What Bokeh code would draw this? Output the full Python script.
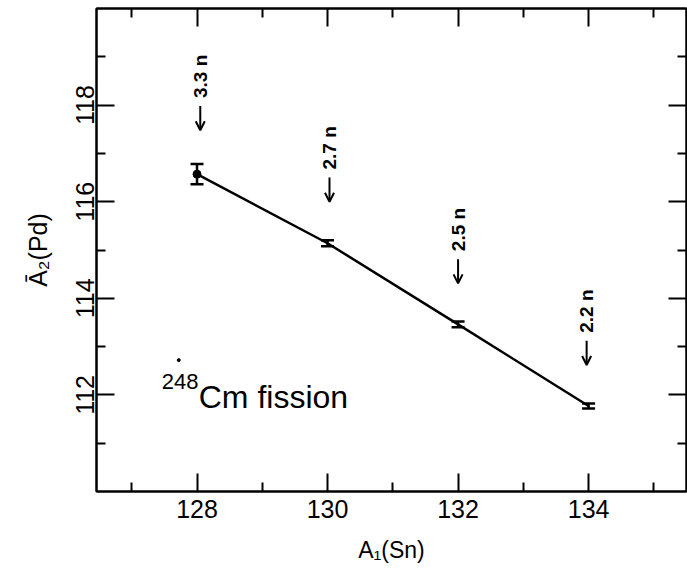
import math
from bokeh.plotting import figure
from bokeh.models import (LinearAxis, FixedTicker, Whisker,
                          ColumnDataSource, Range1d, TeeHead, Arrow, OpenHead)
from bokeh.core.properties import value
from bokeh.embed import file_html
from bokeh.resources import INLINE

# ---- data ----
a1 = [128, 130, 132, 134]
a2 = [116.57, 115.14, 113.46, 111.77]
a2_err = [0.21, 0.06, 0.06, 0.05]

neutron_labels = ["3.3 n", "2.7 n", "2.5 n", "2.2 n"]
arrow_x = [128.05, 130.03, 132.0, 133.97]
arrow_y = [117.48, 116.0, 114.31, 112.62]

stray_x = [127.72]
stray_y = [112.72]

x_major = [128, 130, 132, 134]
x_minor = [127, 129, 131, 133, 135]
y_major = [112, 114, 116, 118]
y_minor = [111, 113, 115, 117, 119]

x_range = (126.46, 135.5)
y_range = (110.0, 120.0)

FONT = "Liberation Sans"
ARROW_LEN = 0.5  # in y data units

src = ColumnDataSource(dict(
    x=a1, y=a2,
    lo=[v - e for v, e in zip(a2, a2_err)],
    hi=[v + e for v, e in zip(a2, a2_err)],
))
ann = ColumnDataSource(dict(
    x=arrow_x, y=arrow_y, y0=[v + ARROW_LEN for v in arrow_y],
    t=neutron_labels,
))

p = figure(width=687, height=570, output_backend="svg", toolbar_location=None,
           x_range=Range1d(*x_range), y_range=Range1d(*y_range),
           min_border_left=96, min_border_right=1, min_border_top=8,
           min_border_bottom=79, background_fill_color="white",
           border_fill_color="white")
p.grid.visible = False
p.outline_line_color = "black"
p.outline_line_width = 2

def style_axis(ax, ticker, labels=True):
    ax.ticker = ticker
    ax.axis_line_width = 2
    ax.major_tick_line_width = 2
    ax.minor_tick_line_width = 2
    ax.major_tick_in = 18
    ax.major_tick_out = 0
    ax.minor_tick_in = 9
    ax.minor_tick_out = 0
    ax.major_label_text_font = FONT
    ax.major_label_text_color = "black"
    ax.axis_label_text_font = FONT
    ax.axis_label_text_color = "black"
    ax.axis_label_text_font_style = "normal"
    if not labels:
        ax.major_label_text_font_size = "0px"
        ax.major_label_text_color = None
        ax.major_label_standoff = 0

style_axis(p.xaxis[0], FixedTicker(ticks=x_major, minor_ticks=x_minor))
style_axis(p.yaxis[0], FixedTicker(ticks=y_major, minor_ticks=y_minor))
p.xaxis.major_label_text_font_size = "25px"
p.yaxis.major_label_text_font_size = "25px"
p.yaxis.major_label_orientation = "vertical"
p.xaxis.major_label_standoff = 8
p.yaxis.major_label_standoff = 2
p.xaxis.axis_label = "A\u2081(Sn)"
p.yaxis.axis_label = "\u0100\u2082(Pd)"
p.xaxis.axis_label_text_font_size = "23px"
p.yaxis.axis_label_text_font_size = "25px"
p.xaxis.axis_label_standoff = 16
p.yaxis.axis_label_standoff = 22

top = LinearAxis()
right = LinearAxis()
style_axis(top, FixedTicker(ticks=x_major, minor_ticks=x_minor), labels=False)
style_axis(right, FixedTicker(ticks=y_major, minor_ticks=y_minor), labels=False)
p.add_layout(top, "above")
p.add_layout(right, "right")

# data line
p.line("x", "y", source=src, line_color="black", line_width=2.5)
# error bars
w = Whisker(source=src, base="x", lower="lo", upper="hi", dimension="height",
            line_color="black", line_width=2.5,
            upper_head=TeeHead(size=13, line_width=2.5, line_color="black"),
            lower_head=TeeHead(size=13, line_width=2.5, line_color="black"))
p.add_layout(w)
p.scatter(a1[:1], a2[:1], size=8, color="black")
p.scatter(stray_x, stray_y, size=3, color="black")

# neutron annotations: down arrows with rotated labels
p.add_layout(Arrow(source=ann, x_start="x", y_start="y0", x_end="x", y_end="y",
                   line_color="black", line_width=2,
                   end=OpenHead(size=9, line_width=2, line_color="black")))
p.text(x="x", y="y0", text="t", source=ann, y_offset=-8,
       angle=math.pi / 2, text_align="left", text_baseline="middle",
       text_font=value(FONT), text_font_size="19px", text_font_style="bold",
       text_color="black")

# 248Cm fission label
p.text(x=[127.46], y=[111.95], text=["248"], text_align="left",
       text_baseline="alphabetic", y_offset=-16,
       text_font=value(FONT), text_font_size="22px", text_color="black")
p.text(x=[127.46], y=[111.95], text=["Cm fission"], text_align="left",
       text_baseline="alphabetic", x_offset=37,
       text_font=value(FONT), text_font_size="32px", text_color="black")

open("out.html", "w").write(file_html(p, INLINE))
